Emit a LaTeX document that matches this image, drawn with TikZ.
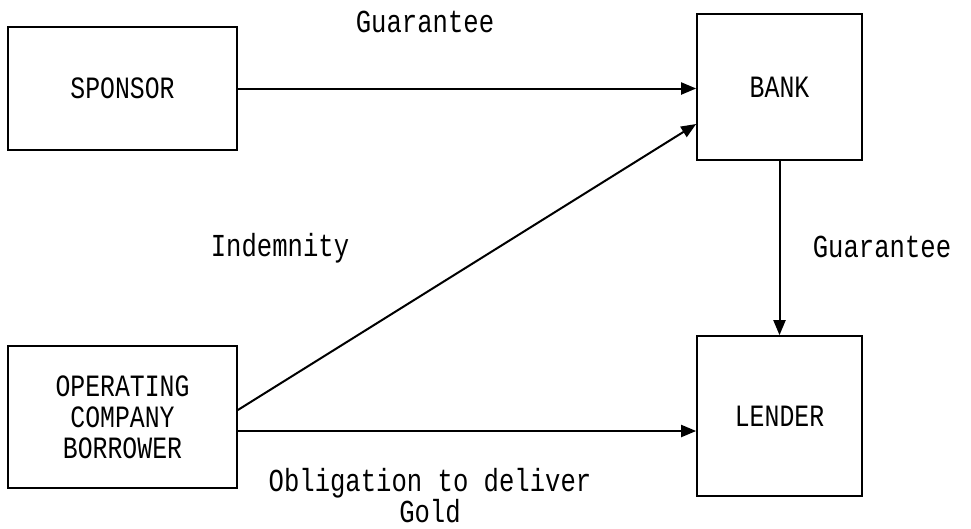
\documentclass[tikz,border=0pt]{standalone}
\usepackage{fontspec}
\newfontfamily\twfont[FakeStretch=0.8]{Liberation Mono}
\usetikzlibrary{arrows.meta}
\begin{document}
\begin{tikzpicture}[x=1pt,y=-1pt,
  box/.style={draw,line width=1.7pt,rectangle,inner sep=0pt,align=center,
    font=\twfont\fontsize{31}{31}\selectfont},
  lbl/.style={inner sep=0pt,align=center,font=\twfont\fontsize{32}{27}\selectfont},
  arr/.style={line width=2pt,-{Triangle[length=15pt,width=12pt]}}]
\useasboundingbox (0,0) rectangle (971,528);
\node[box,minimum width=229pt,minimum height=123pt] (sp) at (122.5,88.5) {SPONSOR};
\node[box,minimum width=165pt,minimum height=146pt] (bank) at (779.5,87) {BANK};
\node[box,minimum width=229pt,minimum height=142pt] (op) at (122.5,417) {OPERATING\\COMPANY\\BORROWER};
\node[box,minimum width=165pt,minimum height=160pt] (lender) at (779.5,416) {LENDER};
\node[lbl] (g1) at (425,22) {Guarantee};
\node[lbl] (ind) at (280,248) {Indemnity};
\node[lbl] (g2) at (882,247) {Guarantee};
\node[lbl] (obl) at (430,496) {Obligation to deliver\\Gold};
\draw[arr] (sp.east) -- (sp.east -| bank.west);
\coordinate (d1) at ([yshift=7pt]op.east);
\coordinate (d2) at ([yshift=-37pt]bank.west);
\draw[arr] (d1) -- (d2);
\draw[arr] (bank.south) -- (lender.north);
\coordinate (b1) at ([yshift=-14pt]op.east);
\draw[arr] (b1) -- (b1 -| lender.west);
\end{tikzpicture}
\end{document}
